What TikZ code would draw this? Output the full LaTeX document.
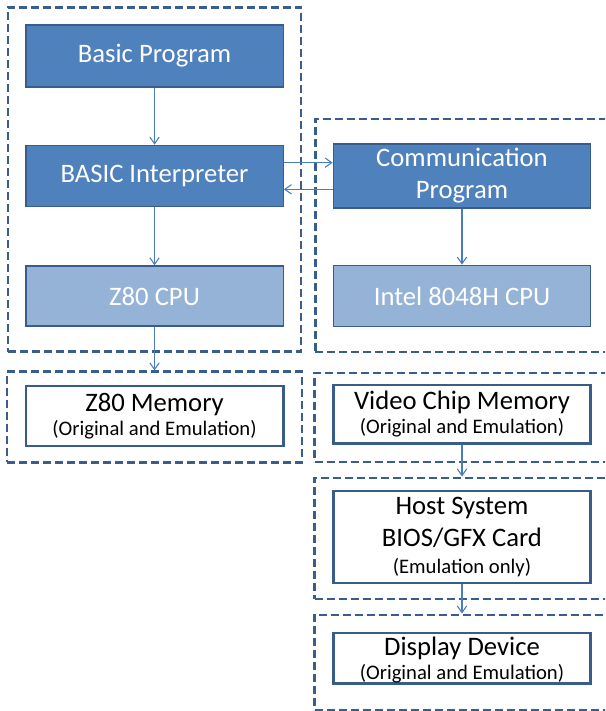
\documentclass[tikz,border=0pt]{standalone}
\usepackage{fontspec}
\setmainfont{Carlito}
\usetikzlibrary{shapes.geometric, arrows, arrows.meta, fit}
\definecolor{darkbox}{HTML}{4F81BD}
\definecolor{lightbox}{HTML}{95B3D7}
\definecolor{boxline}{HTML}{385D8A}
\definecolor{groupline}{HTML}{3A5E8C}
\definecolor{arrowline}{HTML}{4A7EBB}
\newcommand\subtitle[1]{{\fontsize{15.5}{19}\selectfont #1}}
\tikzstyle{layer} = [rectangle, minimum width=193pt, text centered, align=center, draw=boxline, line width=1pt, fill=darkbox, text=white, font=\fontsize{20}{24}\selectfont]
\tikzstyle{chip} = [layer, fill=lightbox]
\tikzstyle{memory} = [rectangle, minimum width=193pt, inner ysep=0pt, text centered, align=center, draw=boxline, line width=2pt, fill=white, text=black, font=\fontsize{20}{24}\selectfont]
\tikzstyle{group} = [rectangle, draw=groupline, line width=1.8pt, dash pattern=on 6pt off 3pt, inner xsep=13pt]
\tikzstyle{arrow} = [draw=arrowline, line width=0.8pt, -{Straight Barb[length=5pt, width=7pt]}]

\begin{document}
\begin{tikzpicture}[node distance=90pt]
\clip (-115.9pt,42pt) rectangle (337.9pt,-491.25pt);
\node (basic) [layer, minimum height=46.5pt] {Basic Program};
\node (interp) [layer, below of=basic, minimum height=46pt] {BASIC Interpreter};
\node (z80cpu) [chip, below of=interp, minimum height=45pt] {Z80 CPU};
\node (z80mem) [memory, below of=z80cpu, node distance=90pt, minimum height=45pt] {Z80 Memory\\[-6pt]\subtitle{(Original and Emulation)}};

\node (comm) [layer, right of=interp, xshift=140.6pt, minimum height=46.5pt] {Communication\\Program};
\node (intel) [chip, below of=comm, minimum height=46pt] {Intel 8048H CPU};
\node (video) [memory, right of=z80mem, xshift=140.6pt, yshift=1.2pt, minimum height=44pt] {Video Chip Memory\\[-6pt]\subtitle{(Original and Emulation)}};
\node (host) [memory, below of=video, node distance=92pt, minimum height=69pt] {Host System\\BIOS/GFX Card\\[-4pt]\subtitle{(Emulation only)}};
\node (display) [memory, below of=host, node distance=91pt, minimum height=38pt, text depth=0pt] {Display Device\\[-6pt]\subtitle{(Original and Emulation)}};

\node (leftgroup) [group, fit=(basic)(z80cpu), inner ysep=15.75pt, yshift=-3pt] {};
\node (rightgroup) [group, fit=(comm)(intel), inner ysep=18.4pt] {};
\node (memgroup) [group, fit=(z80mem), inner ysep=10.5pt, yshift=-0.75pt] {};
\node (videogroup) [group, fit=(video), inner ysep=10.5pt, yshift=-2.25pt] {};
\node (hostgroup) [group, fit=(host), inner ysep=10pt, yshift=-1pt] {};
\node (displaygroup) [group, fit=(display), inner ysep=15.75pt, yshift=-3pt] {};

\draw [arrow] (basic) -- (interp);
\draw [arrow] (interp) -- (z80cpu);
\draw [arrow] (comm) -- (intel);
\draw [arrow] ([yshift=10pt]interp.east) -- ([yshift=10pt]comm.west);
\draw [arrow] ([yshift=-10pt]comm.west) -- ([yshift=-10pt]interp.east);
\draw [arrow] (z80cpu) -- (memgroup);
\draw [arrow] (video) -- (hostgroup);
\draw [arrow] (host) -- (displaygroup);
\end{tikzpicture}
\end{document}
